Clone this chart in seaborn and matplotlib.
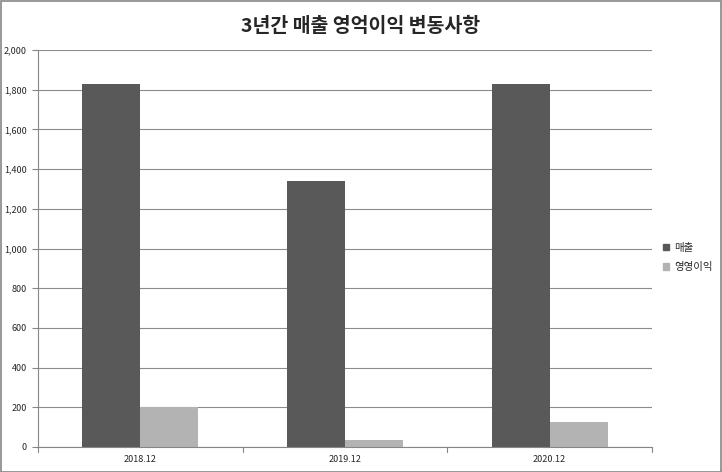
import numpy as np
import pandas as pd
import seaborn as sns
import matplotlib.pyplot as plt
from matplotlib.patches import Rectangle

periods = ['2018.12', '2019.12', '2020.12']
sales = [1830, 1340, 1830]
profit = [200, 35, 125]
series_names = ['매출', '영영이익']

df = pd.DataFrame({
    'period': periods * 2,
    'value': sales + profit,
    'series': [series_names[0]] * 3 + [series_names[1]] * 3,
})

sns.set_style('white')
plt.rcParams['font.family'] = ['Noto Sans CJK KR', 'DejaVu Sans']

fig = plt.figure(figsize=(7.22, 4.72), dpi=100)
ax = fig.add_axes([0.0526, 0.053, 0.8504, 0.841])

sns.barplot(data=df, x='period', y='value', hue='series',
            palette=['#595959', '#b3b3b3'], width=0.567, saturation=1,
            edgecolor='none', ax=ax, legend=False)

ax.set_ylim(0, 2000)
ax.set_xlim(-0.5, 2.5)
ax.set_yticks(np.arange(0, 2001, 200))
ax.set_yticklabels([f'{v:,}' for v in range(0, 2001, 200)], fontsize=6.5)
ax.tick_params(axis='x', labelsize=6.5, length=0, pad=6)
ax.tick_params(axis='y', length=4, width=0.8, color='#868686', direction='out', pad=4, left=True)
ax.set_xlabel('')
ax.set_ylabel('')
ax.grid(axis='y', color='#8c8c8c', linewidth=0.8)
ax.set_axisbelow(True)
for s in ['top', 'right']:
    ax.spines[s].set_visible(False)
for s in ['left', 'bottom']:
    ax.spines[s].set_color('#868686')
    ax.spines[s].set_linewidth(0.8)

# category boundary ticks on x axis
for xb in [-0.5, 0.5, 1.5, 2.5]:
    ax.plot([xb, xb], [0, -0.012], transform=ax.get_xaxis_transform(),
            color='#868686', linewidth=0.8, clip_on=False)

fig.suptitle('3년간 매출 영억이익 변동사항', fontsize=14, fontweight='bold', y=0.965)

handles = [Rectangle((0, 0), 1, 1, color='#595959'), Rectangle((0, 0), 1, 1, color='#b3b3b3')]
fig.legend(handles, series_names, loc='center left', bbox_to_anchor=(0.905, 0.455),
           frameon=False, fontsize=7.5, handlelength=0.6, handleheight=0.6,
           handletextpad=0.5, labelspacing=0.9)

fig.patches.append(Rectangle((0.001, 0.001), 0.997, 0.997, transform=fig.transFigure,
                             fill=False, edgecolor='#868686', linewidth=1.2))

fig.savefig('out.png', dpi=100)
